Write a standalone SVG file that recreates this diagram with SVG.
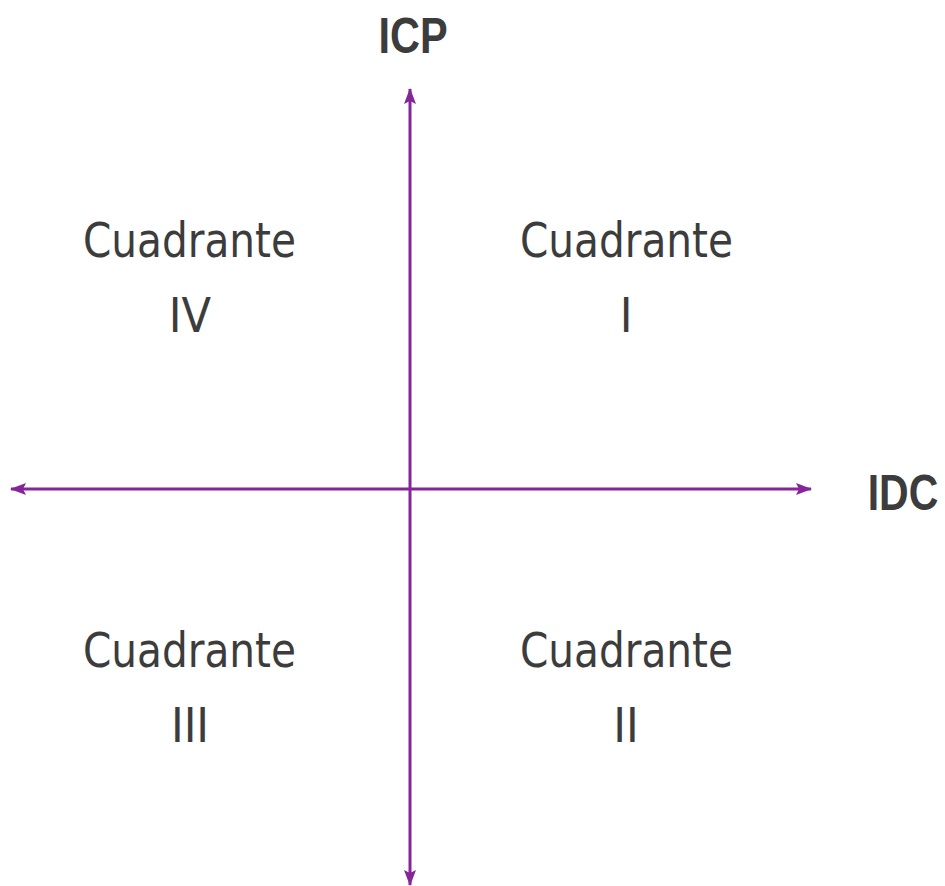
<svg xmlns="http://www.w3.org/2000/svg" width="945" height="886" viewBox="0 0 945 886">
<style>
.q{font-family:"DejaVu Sans Condensed","Liberation Sans",sans-serif;font-size:48px;fill:#3c3c3c;text-anchor:middle;font-weight:300}
.ax{font-family:"Liberation Sans","DejaVu Sans",sans-serif;font-size:50px;font-weight:bold;fill:#3c3c3c;text-anchor:middle}
.axis{stroke:#86259a;stroke-width:3;fill:none}
</style>
<defs>
<marker id="ah" viewBox="0 0 16 12" refX="15" refY="6" markerWidth="16" markerHeight="12" markerUnits="userSpaceOnUse" orient="auto-start-reverse">
<path d="M0,0 L16,6 L0,12 L3,6 Z" fill="#86259a"/>
</marker>
</defs>
<rect width="945" height="886" fill="#ffffff"/>
<g id="connectors">
<line class="axis" x1="410" y1="885" x2="410" y2="89" marker-start="url(#ah)" marker-end="url(#ah)"/>
<line class="axis" x1="11" y1="489" x2="811" y2="489" marker-start="url(#ah)" marker-end="url(#ah)"/>
</g>
<g id="label-icp"><text class="ax" transform="translate(413,53) scale(0.83,1)" x="0" y="0">ICP</text></g>
<g id="label-idc"><text class="ax" transform="translate(903,510) scale(0.82,1)" x="0" y="0">IDC</text></g>
<g id="q4"><text class="q" x="189.5" y="257" textLength="213" lengthAdjust="spacingAndGlyphs">Cuadrante</text><text class="q" x="190" y="332">IV</text></g>
<g id="q1"><text class="q" x="626.5" y="257" textLength="213" lengthAdjust="spacingAndGlyphs">Cuadrante</text><text class="q" x="626" y="332">I</text></g>
<g id="q3"><text class="q" x="189.5" y="667" textLength="213" lengthAdjust="spacingAndGlyphs">Cuadrante</text><text class="q" x="190" y="742">III</text></g>
<g id="q2"><text class="q" x="626.5" y="667" textLength="213" lengthAdjust="spacingAndGlyphs">Cuadrante</text><text class="q" x="626" y="742">II</text></g>
</svg>
